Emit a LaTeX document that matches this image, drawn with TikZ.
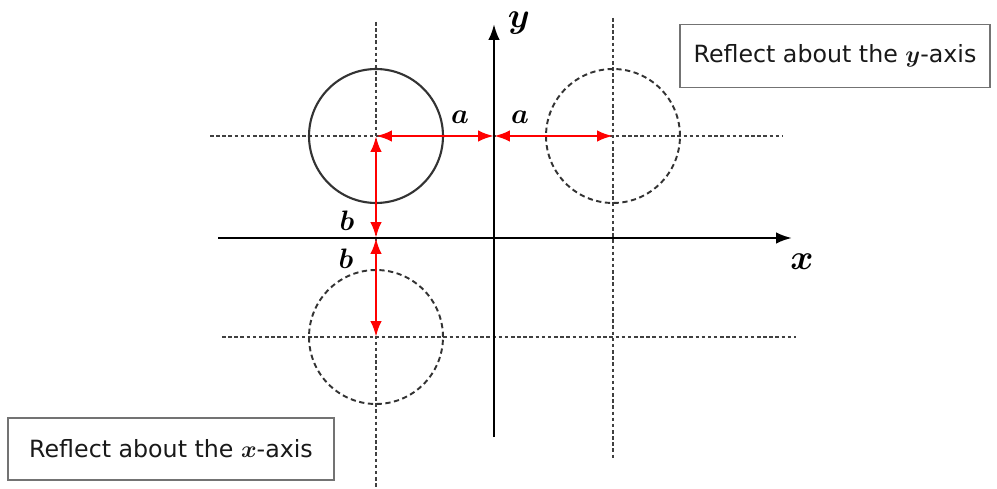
\documentclass[tikz,border=0pt]{standalone}
\usepackage{fix-cm}
\usepackage{amsmath}
\usepackage{bm}
\usepackage{fontspec}
\setsansfont{DejaVu Sans}
\usetikzlibrary{arrows.meta}

\begin{document}
\begin{tikzpicture}[x=0.02cm, y=-0.02cm,
	guide/.style={black!75, line width=0.6pt, dash pattern=on 2pt off 1.5pt},
	axis/.style={black, line width=1.4pt, -{Latex[length=9pt,width=6.5pt]}},
	redarr/.style={red, line width=1.5pt, {Latex[length=9pt,width=6.5pt]}-{Latex[length=9pt,width=6.5pt]}},
	infobox/.style={draw=black!55, line width=0.9pt, font=\sffamily\fontsize{13.5}{16}\selectfont, text=black!90},
	lbl/.style={font=\fontsize{16}{18}\selectfont, inner sep=1pt}]
	\useasboundingbox (0,0) rectangle (997,489);
	% key points
	\coordinate (origin) at (494,238);
	\coordinate (orig) at (376,136);
	\coordinate (imgY) at (613,136);
	\coordinate (imgX) at (376,337);
	\coordinate (onY) at (494,136);
	\coordinate (onX) at (376,238);
	% guide lines
	\draw[guide] (210,136) -- (782,136);
	\draw[guide] (222,337) -- (796,337);
	\draw[guide] (376,22) -- (376,489);
	\draw[guide] (613,18) -- (613,460);
	% axes
	\draw[axis] (218,238) -- (792,238);
	\draw[axis] (494,437) -- (494,24);
	\node[font=\fontsize{20}{22}\selectfont, inner sep=0pt] (ylab) at (519,23) {$\bm{y}$};
	\node[font=\fontsize{20}{22}\selectfont, inner sep=0pt] (xlab) at (802,262) {$\bm{x}$};
	% circles
	\draw[black!80, line width=1.2pt] (orig) circle[radius=1.34cm];
	\draw[black!80, line width=1.1pt, dash pattern=on 3pt off 2pt] (imgY) circle[radius=1.34cm];
	\draw[black!80, line width=1.1pt, dash pattern=on 3pt off 2pt] (imgX) circle[radius=1.34cm];
	% distances
	\draw[redarr] (orig) -- (onY);
	\draw[redarr] (onY) -- (imgY);
	\draw[redarr] (orig) -- (onX);
	\draw[redarr] (onX) -- (imgX);
	\node[lbl] (a1) at (460,117) {$\bm{a}$};
	\node[lbl] (a2) at (520,117) {$\bm{a}$};
	\node[lbl] (b1) at (347,221) {$\bm{b}$};
	\node[lbl] (b2) at (346,259) {$\bm{b}$};
	% captions
	\node[infobox, minimum width=6.2cm, minimum height=1.26cm] (capY) at (835,56) {Reflect about the $\bm{y}$-axis};
	\node[infobox, minimum width=6.52cm, minimum height=1.24cm] (capX) at (171,449) {Reflect about the $\bm{x}$-axis};
\end{tikzpicture}
\end{document}
